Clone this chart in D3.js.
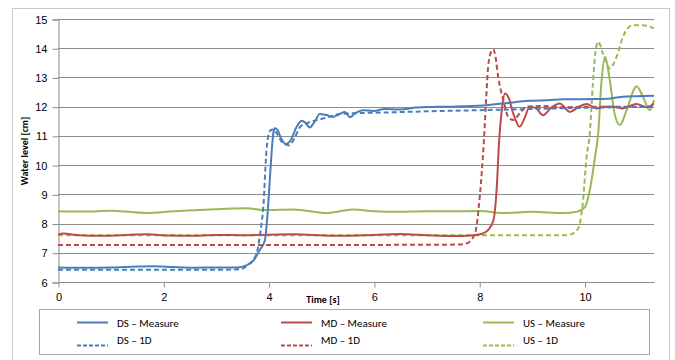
<!DOCTYPE html>
<html><head><meta charset="utf-8">
<script src="https://cdn.jsdelivr.net/npm/d3@7"></script>
<style>
html,body{margin:0;padding:0;background:#fff;}
svg{display:block;font-family:"Carlito","Liberation Sans",Arial,sans-serif;}
</style></head>
<body><svg id="c" width="675" height="360"></svg>
<script>
// ---- data: [time s, water level cm] ----
const xTicks = [0, 2, 4, 6, 8, 10];
const yTicks = [6, 7, 8, 9, 10, 11, 12, 13, 14, 15];
const seriesNames = ["DS \u2013 Measure", "MD \u2013 Measure", "US \u2013 Measure", "DS \u2013 1D", "MD \u2013 1D", "US \u2013 1D"];

const dsMeasure = [[0,6.5],[0.5,6.49],[1,6.5],[1.5,6.53],[1.8,6.54],[2.2,6.51],[2.6,6.49],[3,6.5],[3.4,6.5],[3.58,6.57],[3.72,6.75],[3.83,7.09],[3.93,7.43],[3.99,8.57],[4.03,9.7],[4.06,10.51],[4.09,11.1],[4.12,11.26],[4.17,11.2],[4.24,10.9],[4.33,10.72],[4.42,10.85],[4.53,11.3],[4.63,11.52],[4.7,11.45],[4.78,11.29],[4.88,11.5],[4.97,11.75],[5.08,11.72],[5.22,11.65],[5.35,11.75],[5.45,11.82],[5.54,11.64],[5.65,11.78],[5.79,11.88],[6.0,11.85],[6.2,11.92],[6.5,11.9],[6.8,11.97],[7.06,11.99],[7.5,12.0],[8.07,12.04],[8.5,12.12],[8.96,12.2],[9.3,12.22],[9.59,12.25],[10.23,12.26],[10.5,12.28],[10.73,12.34],[11.0,12.36],[11.32,12.37]];
const ds1D = [[0,6.42],[1,6.42],[2,6.42],[3,6.42],[3.46,6.44],[3.62,6.6],[3.77,6.97],[3.85,7.8],[3.9,8.57],[3.96,10.51],[4.0,11.05],[4.04,11.2],[4.08,11.22],[4.15,11.1],[4.25,10.8],[4.39,10.68],[4.5,10.95],[4.6,11.31],[4.75,11.45],[4.91,11.54],[5.1,11.62],[5.35,11.75],[5.7,11.78],[6.2,11.8],[7,11.84],[8,11.88],[9,11.92],[10,11.96],[11.32,12.0]];
const mdMeasure = [[0,7.62],[0.1,7.66],[0.4,7.6],[0.8,7.58],[1.2,7.6],[1.7,7.63],[2.1,7.59],[2.5,7.58],[3.0,7.61],[3.5,7.6],[4.0,7.62],[4.5,7.63],[5.2,7.58],[5.8,7.6],[6.5,7.64],[7.0,7.6],[7.5,7.57],[7.9,7.6],[8.07,7.66],[8.18,7.8],[8.27,8.11],[8.33,9.14],[8.38,10.86],[8.43,11.9],[8.49,12.45],[8.56,12.3],[8.64,11.8],[8.77,11.31],[8.86,11.6],[8.96,12.0],[9.08,11.95],[9.21,11.71],[9.36,11.95],[9.53,12.11],[9.72,11.82],[9.88,11.98],[10.04,12.09],[10.23,11.94],[10.38,12.0],[10.54,12.0],[10.73,11.94],[10.86,12.02],[10.99,12.09],[11.18,11.98],[11.32,12.11]];
const md1D = [[0,7.27],[2,7.27],[4,7.27],[6,7.27],[7.6,7.28],[7.76,7.32],[7.92,7.66],[8.01,8.91],[8.09,10.86],[8.13,12.2],[8.17,13.37],[8.22,13.85],[8.27,13.96],[8.31,13.7],[8.36,13.02],[8.46,12.22],[8.55,11.65],[8.65,11.54],[8.77,11.77],[8.9,12.0],[9.2,12.02],[9.6,11.98],[10,12.0],[10.5,12.0],[11,12.0],[11.32,12.02]];
const usMeasure = [[0,8.42],[0.5,8.41],[1.0,8.44],[1.68,8.36],[2.2,8.42],[2.8,8.47],[3.58,8.52],[3.96,8.46],[4.47,8.48],[5.1,8.36],[5.61,8.48],[6.0,8.42],[6.43,8.4],[7.0,8.42],[7.5,8.42],[8.01,8.43],[8.45,8.36],[9.0,8.4],[9.59,8.36],[9.85,8.4],[10.01,8.57],[10.1,9.14],[10.2,10.28],[10.26,11.08],[10.32,12.8],[10.39,13.71],[10.48,12.91],[10.57,11.77],[10.67,11.37],[10.8,11.88],[10.99,12.7],[11.11,12.34],[11.24,11.88],[11.32,12.23]];
const us1D = [[0,7.6],[2,7.6],[4,7.6],[6,7.6],[8,7.6],[9.6,7.6],[9.72,7.62],[9.88,7.83],[9.96,8.57],[10.04,10.28],[10.1,11.08],[10.16,12.8],[10.21,13.9],[10.26,14.22],[10.35,13.82],[10.48,13.31],[10.61,13.71],[10.73,14.39],[10.92,14.79],[11.11,14.79],[11.32,14.68]];

const colors = {DS:"#4a7ebb", MD:"#be4b48", US:"#98b954"};

// ---- layout ----
const svg = d3.select("#c");
const L = 58, R = 654, T = 19, B = 282;
const x = d3.scaleLinear().domain([0, 11.32]).range([L, R]);
const y = d3.scaleLinear().domain([6, 15]).range([B, T]);

// outer border
svg.append("rect").attr("x",12.5).attr("y",8.5).attr("width",657).attr("height",360)
  .attr("fill","none").attr("stroke","#c8c8c8").attr("stroke-width",1);

// gridlines
svg.append("g").selectAll("line").data(yTicks.filter(d=>d>6)).join("line")
  .attr("x1",L).attr("x2",R).attr("y1",d=>Math.round(y(d))+0.5).attr("y2",d=>Math.round(y(d))+0.5)
  .attr("stroke","#8c8c8c").attr("stroke-width",1);

// axes
const yAxis = d3.axisLeft(y).tickValues(yTicks).tickSize(6).tickPadding(5).tickFormat(d3.format("d"));
const gy = svg.append("g").attr("transform",`translate(${L+0.5},0.5)`).call(yAxis);
const xAxis = d3.axisBottom(x).tickValues(xTicks).tickSize(5).tickPadding(6).tickFormat(d3.format("d"));
const gx = svg.append("g").attr("transform",`translate(0.5,${B+0.5})`).call(xAxis);
[gx,gy].forEach(g=>{
  g.selectAll("path.domain").attr("stroke","#8c8c8c");
  g.selectAll(".tick line").attr("stroke","#8c8c8c");
  g.selectAll(".tick text").attr("fill","#000").attr("font-size","11px");
});
gx.select("path.domain").attr("d",`M${L},0H${R}`);

// axis titles
svg.append("text").attr("x",323).attr("y",303).attr("text-anchor","middle")
  .attr("font-size","10px").attr("font-weight","bold").text("Time [s]");
svg.append("text").attr("transform","translate(28,151) rotate(-90)").attr("text-anchor","middle")
  .attr("font-size","10px").attr("font-weight","bold").text("Water level [cm]");

// lines
const line = d3.line().x(d=>x(d[0])).y(d=>y(d[1])).curve(d3.curveMonotoneX);
const defs = [
  {data:usMeasure, c:colors.US, dash:null},
  {data:us1D, c:colors.US, dash:"5,3"},
  {data:mdMeasure, c:colors.MD, dash:null},
  {data:md1D, c:colors.MD, dash:"5,3"},
  {data:dsMeasure, c:colors.DS, dash:null},
  {data:ds1D, c:colors.DS, dash:"5,3"}
];
const plot = svg.append("g");
defs.forEach(s=>{
  plot.append("path").attr("d",line(s.data)).attr("fill","none")
    .attr("stroke",s.c).attr("stroke-width",2).attr("stroke-linejoin","round")
    .attr("stroke-dasharray",s.dash);
});

// legend
svg.append("rect").attr("x",39.5).attr("y",309.5).attr("width",610).attr("height",45)
  .attr("fill","none").attr("stroke","#a6a6a6");
const legCols = [
  {k:"DS", x0:77},
  {k:"MD", x0:281},
  {k:"US", x0:483}
];
legCols.forEach((c,i)=>{
  [0,1].forEach(r=>{
    const yy = r===0 ? 322.5 : 339.5;
    svg.append("line").attr("x1",c.x0).attr("x2",c.x0+31).attr("y1",r===0?322.5:345.5).attr("y2",r===0?322.5:345.5)
      .attr("stroke",colors[c.k]).attr("stroke-width",2).attr("stroke-dasharray",r===0?null:"4,2");
    svg.append("text").attr("x",c.x0+40).attr("y",yy+4).attr("font-size","11px").attr("fill","#000")
      .text(seriesNames[i + r*3]);
  });
});
</script></body></html>
